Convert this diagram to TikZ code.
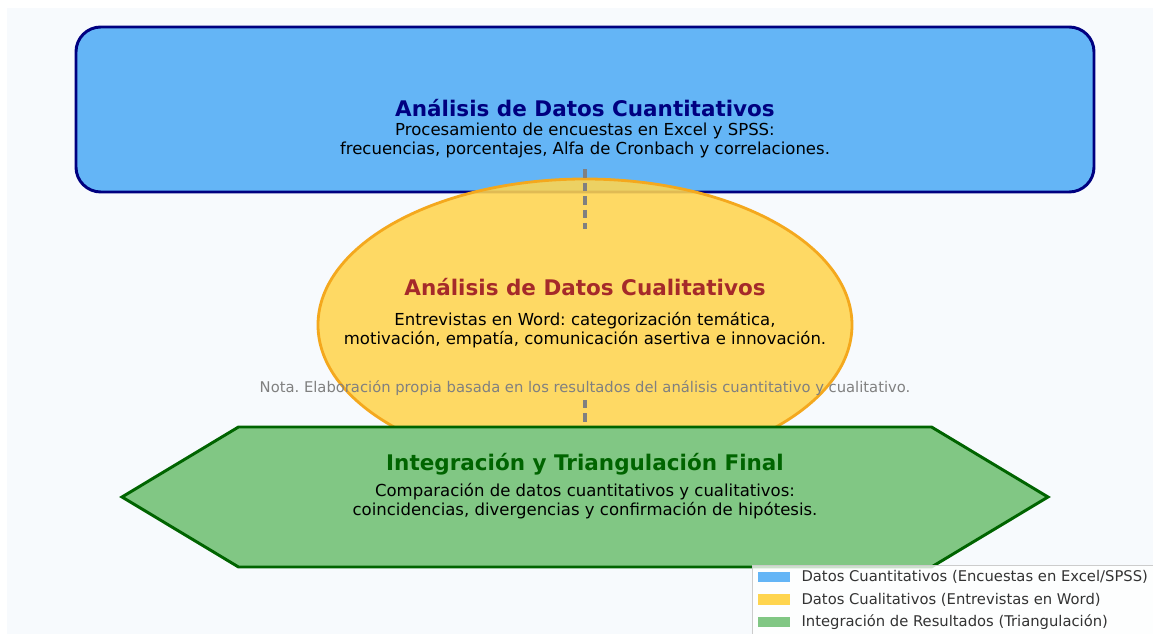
\documentclass[tikz,border=0pt]{standalone}
\usepackage{fontspec}
\setmainfont{DejaVu Sans}
\usetikzlibrary{calc,positioning,shapes.geometric,shapes.symbols}
\frenchspacing

\definecolor{qtFill}{HTML}{64B5F6}
\definecolor{qtEdge}{HTML}{000080}
\definecolor{qlFill}{HTML}{FFD54F}
\definecolor{qlEdge}{HTML}{F4A81D}
\definecolor{qlTitle}{HTML}{A52A2A}
\definecolor{inFill}{HTML}{81C784}
\definecolor{inEdge}{HTML}{006400}
\definecolor{bgPanel}{HTML}{F7FAFD}
\definecolor{noteGray}{HTML}{808080}

\tikzset{
  stagetitle/.style={font=\fontsize{15.3}{18}\selectfont\bfseries},
  stagebody/.style={font=\fontsize{11.75}{13.6}\selectfont, align=center, text=black},
  flowlink/.style={draw=noteGray, line width=2.2pt, dash pattern=on 6pt off 3.5pt},
  keypatch/.style={minimum width=0.8cm, minimum height=0.26cm, inner sep=0pt},
  keytext/.style={font=\fontsize{10.5}{12}\selectfont, text=black!80, anchor=west, inner sep=0pt}
}

\begin{document}
\begin{tikzpicture}
  \useasboundingbox (0,0) rectangle (28.825,15.85);
  \fill[bgPanel] (0.175,0) rectangle (28.825,15.65);

  % the three stages
  \node[draw=qtEdge, fill=qtFill, line width=2.1pt, rounded corners=0.62cm,
        minimum width=25.45cm, minimum height=4.125cm] (quant) at (14.625,13.1125) {};
  \node[ellipse, draw=qlEdge, fill=qlFill, fill opacity=0.88, line width=2pt,
        minimum width=13.35cm, minimum height=7.3cm] (qual) at (14.625,7.725) {};

  % dashed links between stages
  \coordinate (quant-out) at ([yshift=0.6cm]quant.south);
  \coordinate (qual-in) at ([yshift=-1.275cm]qual.north);
  \coordinate (qual-out) at ([yshift=-1.875cm]qual.center);
  \draw[flowlink] (quant-out) -- (qual-in);

  \node[signal, signal to=west and east, signal pointer angle=62,
        draw=inEdge, fill=inFill, line width=2.1pt,
        minimum width=23.15cm, minimum height=3.5cm] (integ) at (14.625,3.425) {};
  \draw[flowlink] (qual-out) -- (integ.north);

  % labels
  \node[stagetitle, text=qtEdge] (quant-title) at (14.625,13.15) {Análisis de Datos Cuantitativos};
  \node[stagebody] (quant-body) at (14.625,12.34) {Procesamiento de encuestas en Excel y SPSS:\\frecuencias, porcentajes, Alfa de Cronbach y correlaciones.};
  \node[stagetitle, text=qlTitle] (qual-title) at (14.625,8.675) {Análisis de Datos Cualitativos};
  \node[stagebody] (qual-body) at (14.625,7.59) {Entrevistas en Word: categorización temática,\\motivación, empatía, comunicación asertiva e innovación.};
  \node[stagetitle, text=inEdge] (integ-title) at (14.625,4.25) {Integración y Triangulación Final};
  \node[stagebody] (integ-body) at (14.625,3.32) {Comparación de datos cuantitativos y cualitativos:\\coincidencias, divergencias y confirmación de hipótesis.};

  \node[font=\fontsize{10.5}{12}\selectfont, text=noteGray] (note) at (14.625,6.15)
    {Nota. Elaboración propia basada en los resultados del análisis cuantitativo y cualitativo.};

  % legend
  \draw[black!20, fill=white, fill opacity=0.8] (18.8,1.725) rectangle (29.1,-0.2);
  \node[keypatch, fill=qtFill] (key-quant) at (19.35,1.425) {};
  \node[keypatch, fill=qlFill, below=0.29cm of key-quant] (key-qual) {};
  \node[keypatch, fill=inFill, below=0.29cm of key-qual] (key-integ) {};
  \node[keytext, right=0.275cm of key-quant] {Datos Cuantitativos (Encuestas en Excel/SPSS)};
  \node[keytext, right=0.275cm of key-qual] {Datos Cualitativos (Entrevistas en Word)};
  \node[keytext, right=0.275cm of key-integ] {Integración de Resultados (Triangulación)};
\end{tikzpicture}
\end{document}
